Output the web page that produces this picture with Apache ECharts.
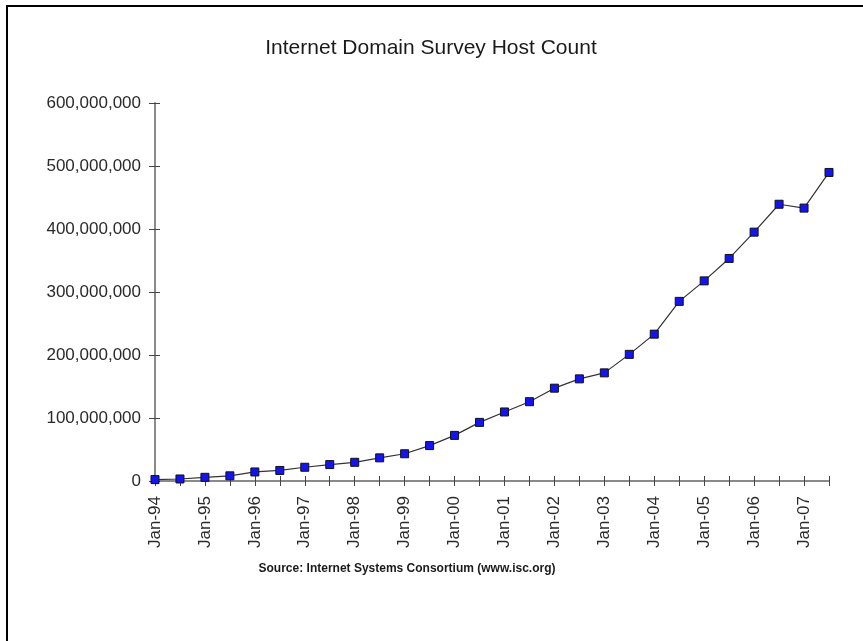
<!DOCTYPE html>
<html>
<head>
<meta charset="utf-8">
<title>Internet Domain Survey Host Count</title>
<script src="https://cdn.jsdelivr.net/npm/echarts@6/dist/echarts.min.js"></script>
<style>
  html, body { margin: 0; padding: 0; background: #fff; }
  #chart { width: 863px; height: 641px; }
</style>
</head>
<body>
<div id="chart"></div>
<script>
// Survey dates (every six months) and host counts
const surveyDates = [
  'Jan-94', 'Jul-94', 'Jan-95', 'Jul-95', 'Jan-96', 'Jul-96', 'Jan-97', 'Jul-97',
  'Jan-98', 'Jul-98', 'Jan-99', 'Jul-99', 'Jan-00', 'Jul-00', 'Jan-01', 'Jul-01',
  'Jan-02', 'Jul-02', 'Jan-03', 'Jul-03', 'Jan-04', 'Jul-04', 'Jan-05', 'Jul-05',
  'Jan-06', 'Jul-06', 'Jan-07', 'Jul-07'
];
const hostCounts = [
  2217000, 3212000, 5846000, 8200000, 14352000, 16729000, 21819000, 26053000,
  29670000, 36739000, 43230000, 56218000, 72398000, 93048000, 109574000, 125888000,
  147345000, 162128000, 171638000, 201000000, 233101000, 285139000, 317646000, 353284000,
  394992000, 439286000, 433193000, 489774000
];
const yTicks = { min: 0, max: 600000000, step: 100000000 };
const chartTitle = 'Internet Domain Survey Host Count';
const sourceNote = 'Source: Internet Systems Consortium (www.isc.org)';

const fmt = v => String(v).replace(/\B(?=(\d{3})+(?!\d))/g, ',');
const font = 'Liberation Sans, Arial, sans-serif';

const grid = { left: 155, right: 34, top: 103, bottom: 160 };

const chart = echarts.init(document.getElementById('chart'), null, { renderer: 'canvas' });

const baseX = {
  type: 'category',
  data: surveyDates,
  boundaryGap: false,
  position: 'bottom'
};
const baseY = {
  type: 'value',
  min: yTicks.min,
  max: yTicks.max,
  interval: yTicks.step,
  position: 'left'
};

chart.setOption({
  animation: false,
  backgroundColor: '#fff',
  title: {
    text: chartTitle,
    left: 426,
    top: 33,
    textAlign: 'center',
    textStyle: { fontFamily: font, fontSize: 21, fontWeight: 'normal', color: '#1a1a1a' }
  },
  grid: grid,
  xAxis: [
    Object.assign({}, baseX, {
      axisLine: { lineStyle: { color: '#8a8a8a', width: 2 } },
      axisTick: { show: true, interval: 0, length: 5, lineStyle: { color: '#444' } },
      axisLabel: {
        interval: 1, rotate: 90, margin: 15,
        fontFamily: font, fontSize: 17, color: '#2a2a2a'
      },
      splitLine: { show: false }
    }),
    Object.assign({}, baseX, {
      axisLine: { show: false },
      axisTick: { show: true, inside: true, interval: 0, length: 5, lineStyle: { color: '#444' } },
      axisLabel: { show: false },
      splitLine: { show: false }
    })
  ],
  yAxis: [
    Object.assign({}, baseY, {
      axisLine: { show: true, lineStyle: { color: '#8a8a8a', width: 2 } },
      axisTick: { show: true, length: 6, lineStyle: { color: '#444' } },
      axisLabel: {
        margin: 14, formatter: fmt,
        fontFamily: font, fontSize: 17, color: '#2a2a2a'
      },
      splitLine: { show: false }
    }),
    Object.assign({}, baseY, {
      axisLine: { show: false },
      axisTick: { show: true, inside: true, length: 5, lineStyle: { color: '#444' } },
      axisLabel: { show: false },
      splitLine: { show: false }
    })
  ],
  series: [{
    type: 'line',
    data: hostCounts,
    xAxisIndex: 0,
    yAxisIndex: 0,
    symbol: 'rect',
    symbolSize: 8,
    lineStyle: { color: '#333', width: 1.2 },
    itemStyle: { color: '#1414f0', borderColor: '#111', borderWidth: 1 },
    z: 5
  }],
  graphic: [
    {
      type: 'rect',
      shape: { x: 7, y: 6, width: 1000, height: 1000 },
      style: { fill: 'none', stroke: '#000', lineWidth: 2 },
      silent: true
    },
    {
      type: 'text',
      x: 407,
      y: 569,
      style: {
        text: sourceNote,
        fontFamily: font, fontSize: 12, fontWeight: 'bold', fill: '#1a1a1a',
        align: 'center', verticalAlign: 'middle'
      }
    }
  ]
});
</script>
</body>
</html>
